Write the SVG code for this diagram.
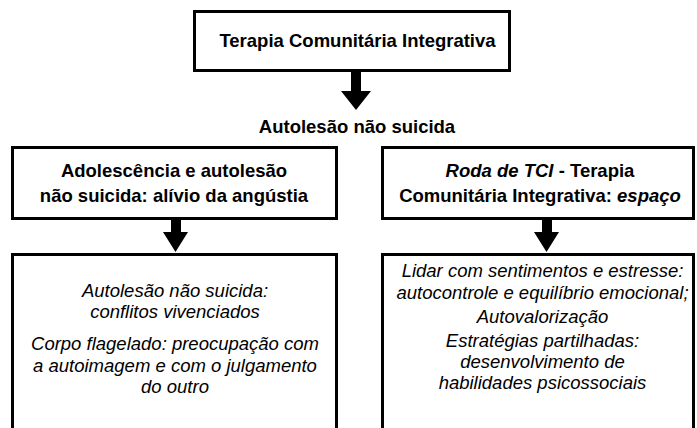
<svg xmlns="http://www.w3.org/2000/svg" width="697" height="428" viewBox="0 0 697 428">
<style>
.box{fill:#fff;stroke:#000;stroke-width:3}
.arr{fill:#000}
text{font-family:"Liberation Sans",Arial,sans-serif;font-size:18.5px;fill:#000;text-anchor:middle}
.b{font-weight:bold}
.i{font-style:italic}
</style>
<rect width="697" height="428" fill="#fff"/>
<g id="connectors">
<polygon class="arr" points="351,70 361,70 361,91 371,91 356,110 341,91 351,91"/>
<polygon class="arr" points="171,220 181,220 181,232 188,232 175.5,252 163,232 171,232"/>
<polygon class="arr" points="542,220 552,220 552,232 559,232 546.5,252 534,232 542,232"/>
</g>
<g id="n-tci">
<rect class="box" x="194.5" y="11.5" width="315" height="59"/>
<text class="b" x="357.5" y="47">Terapia Comunitária Integrativa</text>
</g>
<g id="n-autolesao">
<text class="b" x="357" y="133">Autolesão não suicida</text>
</g>
<g id="n-adolescencia">
<rect class="box" x="12.5" y="147.5" width="324" height="71"/>
<text class="b" x="174" y="177">Adolescência e autolesão</text>
<text class="b" x="174" y="202">não suicida: alívio da angústia</text>
</g>
<g id="n-roda">
<rect class="box" x="382.5" y="147.5" width="311" height="71"/>
<text class="b" x="540" y="177"><tspan class="i">Roda de TCI</tspan> - Terapia</text>
<text class="b" x="540" y="202">Comunitária Integrativa: <tspan class="i">espaço</tspan></text>
</g>
<g id="n-conflitos">
<rect class="box" x="12.5" y="254.5" width="324" height="200"/>
<text class="i" x="175" y="297">Autolesão não suicida:</text>
<text class="i" x="175" y="318">conflitos vivenciados</text>
<text class="i" x="175" y="350">Corpo flagelado: preocupação com</text>
<text class="i" x="175" y="372">a autoimagem e com o julgamento</text>
<text class="i" x="175" y="393">do outro</text>
</g>
<g id="n-estrategias">
<rect class="box" x="382.5" y="254.5" width="311" height="200"/>
<text class="i" x="542.5" y="277">Lidar com sentimentos e estresse:</text>
<text class="i" x="542.5" y="299">autocontrole e equilíbrio emocional;</text>
<text class="i" x="542.5" y="323">Autovalorização</text>
<text class="i" x="542.5" y="347">Estratégias partilhadas:</text>
<text class="i" x="542.5" y="368">desenvolvimento de</text>
<text class="i" x="542.5" y="389">habilidades psicossociais</text>
</g>
</svg>
